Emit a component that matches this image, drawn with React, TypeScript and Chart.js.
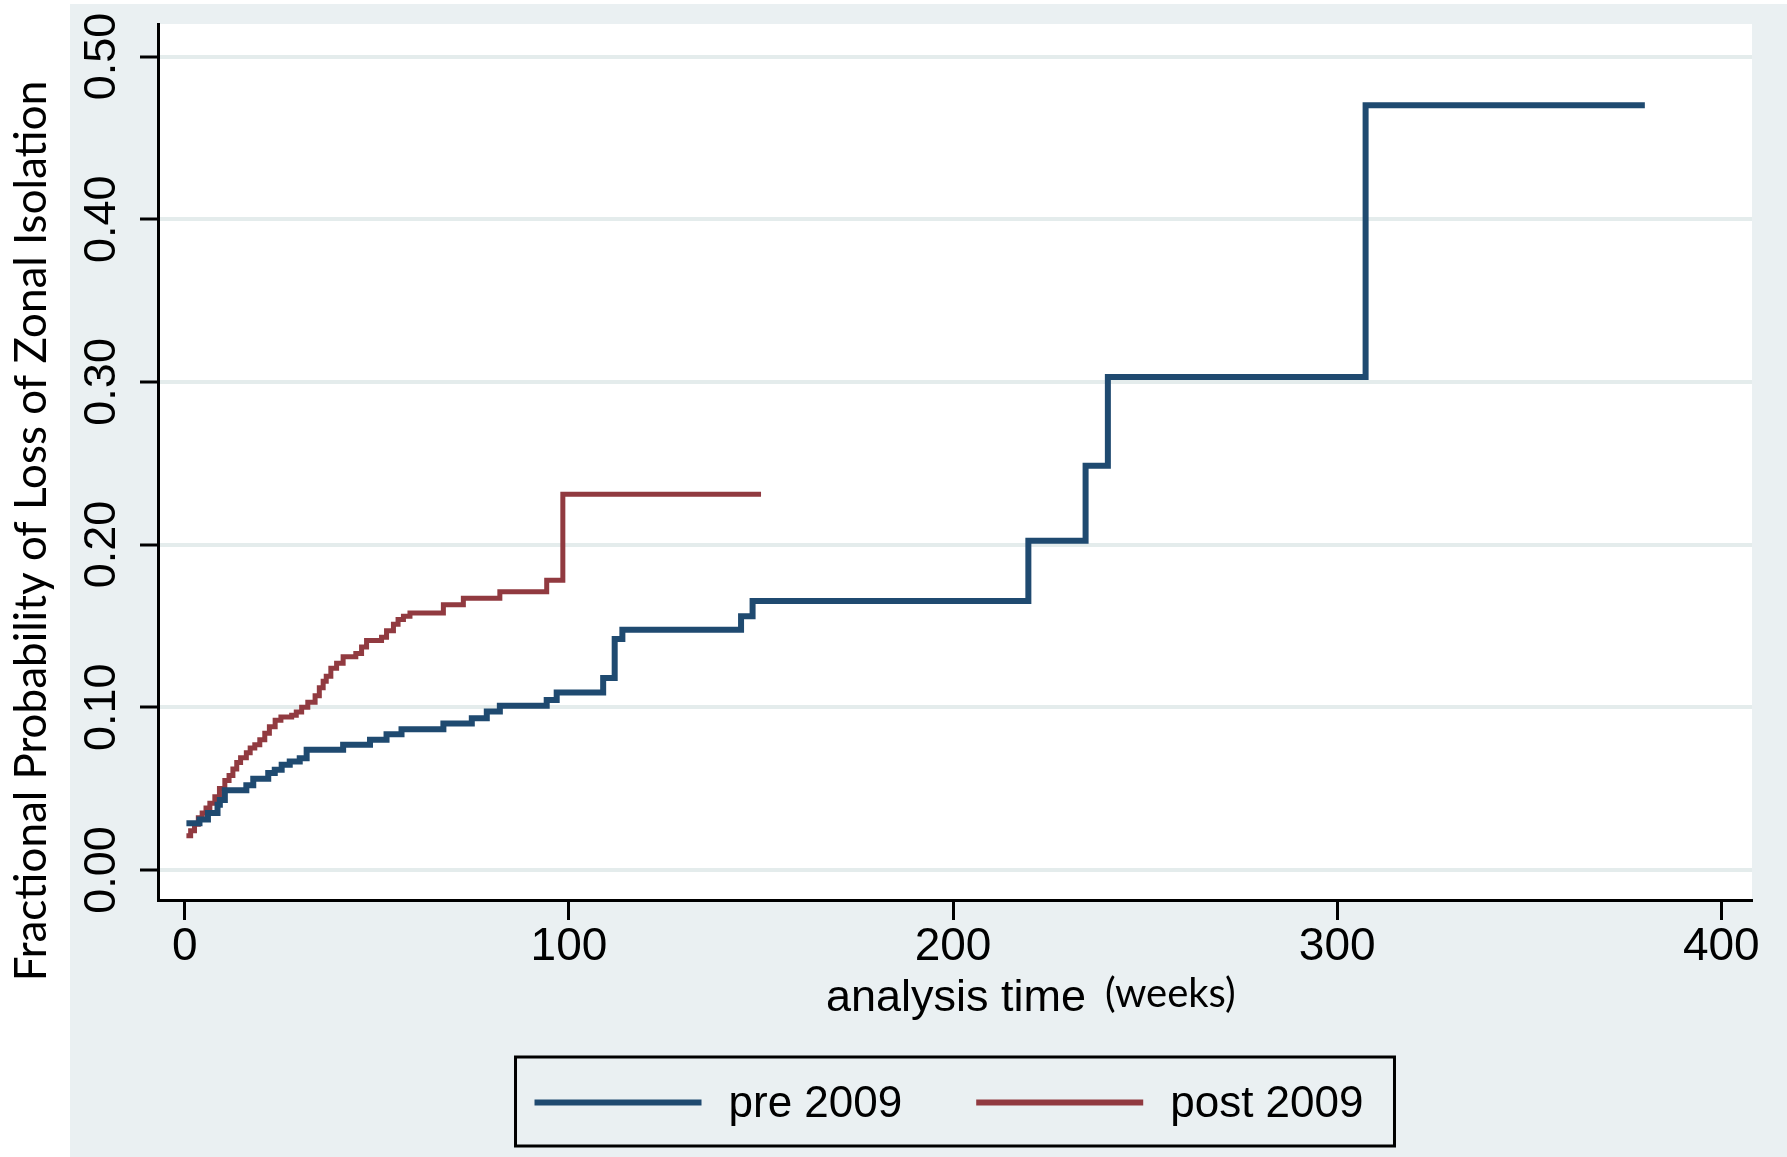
import React, { useEffect, useRef } from "react";
import { Chart, registerables } from "chart.js";

Chart.register(...registerables);

// ---- Data ----
const seriesLabels = ["pre 2009", "post 2009"];

const preTimes = [
  0.4, 3.8, 6.0, 8.5, 9.1, 10.4, 16.0, 17.8, 21.7, 23.4, 25.2, 27.3, 29.9, 31.7,
  41.2, 48.2, 52.5, 56.4, 67.3, 74.7, 78.6, 82.0, 94.2, 96.8, 108.9, 111.9, 113.9,
  144.8, 147.8, 219.6, 234.5, 240.3, 307.4, 380.1,
];
const preValues = [
  0.0287, 0.031, 0.035, 0.04, 0.043, 0.049, 0.052, 0.056, 0.0595, 0.0615, 0.0646,
  0.0666, 0.0687, 0.0738, 0.0769, 0.08, 0.0834, 0.0865, 0.09, 0.0933, 0.0974,
  0.1009, 0.1045, 0.109, 0.118, 0.142, 0.1477, 0.156, 0.1653, 0.2023, 0.2485,
  0.303, 0.47, 0.47,
];

const postTimes = [
  0.4, 1.5, 2.5, 3.5, 4.5, 5.5, 6.5, 7.8, 9.0, 10.4, 11.5, 12.5, 13.5, 14.5, 16.0,
  17.0, 18.2, 19.5, 20.8, 22.0, 23.5, 25.0, 27.8, 29.0, 30.4, 32.0, 33.9, 35.0,
  36.0, 36.8, 38.0, 39.5, 41.2, 44.5, 46.0, 47.3, 51.2, 52.5, 54.3, 55.5, 56.9,
  58.6, 67.3, 72.5, 82.0, 94.2, 98.4, 150.0,
];
const postValues = [
  0.021, 0.024, 0.028, 0.032, 0.035, 0.038, 0.041, 0.045, 0.05, 0.055, 0.058,
  0.062, 0.066, 0.069, 0.072, 0.075, 0.077, 0.08, 0.084, 0.088, 0.092, 0.094,
  0.095, 0.097, 0.1, 0.103, 0.107, 0.112, 0.116, 0.119, 0.124, 0.127, 0.131,
  0.133, 0.137, 0.141, 0.143, 0.147, 0.151, 0.154, 0.156, 0.158, 0.163, 0.167,
  0.171, 0.178, 0.231, 0.231,
];

const xTickValues = [0, 100, 200, 300, 400];
const yTickValues = [0, 0.1, 0.2, 0.3, 0.4, 0.5];

const yTitle = "Fractional Probability of Loss of Zonal Isolation";
const xTitleMain = "analysis time";
const xTitleUnit = "(weeks)";

const BLUE = "#1f4a70";
const RED = "#913a40";
const PANEL = "#eaf0f2";
const GRID = "#e4ecec";

const decorPlugin = {
  id: "decor",
  beforeDraw(chart: any) {
    const { ctx, width, height, chartArea } = chart;
    ctx.save();
    ctx.fillStyle = "#ffffff";
    ctx.fillRect(0, 0, width, height);
    ctx.fillStyle = PANEL;
    ctx.fillRect(70, 4, width - 70, height - 4);
    ctx.fillStyle = "#ffffff";
    ctx.fillRect(
      chartArea.left,
      chartArea.top,
      chartArea.right - chartArea.left,
      chartArea.bottom - chartArea.top
    );
    ctx.restore();
  },
  afterDraw(chart: any) {
    const { ctx, chartArea } = chart;
    ctx.save();
    ctx.fillStyle = "#000";
    // y title
    ctx.font = "44px Lato";
    ctx.textAlign = "center";
    ctx.textBaseline = "middle";
    ctx.translate(32, 531);
    ctx.rotate(-Math.PI / 2);
    ctx.fillText(yTitle, 0, 0);
    ctx.setTransform(1, 0, 0, 1, 0, 0);

    // x title
    ctx.textAlign = "left";
    ctx.font = "45px 'Liberation Sans'";
    ctx.fillText(xTitleMain, 826, 999);
    ctx.font = "40px Lato";
    ctx.fillText(xTitleUnit, 1105, 994);

    // legend
    const ds = chart.data.datasets;
    const sample = 167;
    const gap = 27;
    const spacing = 74;
    ctx.font = "44px 'Liberation Sans'";
    let rowW = 0;
    ds.forEach((d: any, i: number) => {
      rowW += sample + gap + ctx.measureText(d.label).width;
      if (i < ds.length - 1) rowW += spacing;
    });
    const cx = (chartArea.left + chartArea.right) / 2;
    const boxW = rowW + 50;
    const boxTop = 1057;
    const boxH = 89;
    ctx.strokeStyle = "#000";
    ctx.lineWidth = 3;
    ctx.strokeRect(cx - boxW / 2, boxTop, boxW, boxH);
    const cy = boxTop + boxH / 2 + 1;
    let x = cx - rowW / 2 - 6;
    ds.forEach((d: any) => {
      ctx.strokeStyle = d.borderColor;
      ctx.lineWidth = 6;
      ctx.beginPath();
      ctx.moveTo(x, cy);
      ctx.lineTo(x + sample, cy);
      ctx.stroke();
      x += sample + gap;
      ctx.fillStyle = "#000";
      ctx.fillText(d.label, x, cy + 2);
      x += ctx.measureText(d.label).width + spacing;
    });
    ctx.restore();
  },
};

export default function App() {
  const canvasRef = useRef<HTMLCanvasElement | null>(null);

  useEffect(() => {
    const canvas = canvasRef.current;
    if (!canvas) return;
    Chart.defaults.font.family = "'Liberation Sans', Arial, sans-serif";
    const chart = new Chart(canvas, {
      type: "line",
      data: {
        datasets: [
          {
            label: seriesLabels[0],
            data: preTimes.map((t, i) => ({ x: t, y: preValues[i] })),
            borderColor: BLUE,
            backgroundColor: BLUE,
            borderWidth: 6,
            stepped: true,
            pointRadius: 0,
            fill: false,
            borderJoinStyle: "miter",
            borderCapStyle: "butt",
          },
          {
            label: seriesLabels[1],
            data: postTimes.map((t, i) => ({ x: t, y: postValues[i] })),
            borderColor: RED,
            backgroundColor: RED,
            borderWidth: 5,
            stepped: true,
            pointRadius: 0,
            fill: false,
            borderJoinStyle: "miter",
            borderCapStyle: "butt",
          },
        ],
      },
      options: {
        animation: false,
        responsive: false,
        devicePixelRatio: 1,
        layout: { padding: { top: 24, right: 35, bottom: 0, left: 0 } },
        plugins: {
          legend: { display: false },
          tooltip: { enabled: false },
          title: { display: false },
        },
        scales: {
          x: {
            type: "linear",
            min: -7,
            max: 408,
            afterBuildTicks: (s: any) => {
              s.ticks = xTickValues.map((v) => ({ value: v }));
            },
            ticks: {
              autoSkip: false,
              maxRotation: 0,
              minRotation: 0,
              padding: 0,
              color: "#000",
              font: { size: 46 },
              callback: (v: any) => String(v),
            },
            grid: {
              drawOnChartArea: false,
              drawTicks: true,
              tickLength: 20,
              tickWidth: 3,
              tickColor: "#000",
            },
            border: { display: true, color: "#000", width: 3 },
            afterFit: (s: any) => {
              s.height = 257;
              s.paddingLeft = 0;
              s.paddingRight = 0;
            },
          },
          y: {
            type: "linear",
            min: -0.0185,
            max: 0.52,
            afterBuildTicks: (s: any) => {
              s.ticks = yTickValues.map((v) => ({ value: v }));
            },
            ticks: {
              autoSkip: false,
              minRotation: 90,
              maxRotation: 90,
              crossAlign: "center",
              padding: -6,
              color: "#000",
              font: { size: 45 },
              callback: (v: any) => Number(v).toFixed(2),
            },
            grid: {
              color: GRID,
              lineWidth: 4,
              drawTicks: true,
              tickLength: 18,
              tickWidth: 3,
              tickColor: "#000",
            },
            border: { display: true, color: "#000", width: 3 },
            afterFit: (s: any) => {
              s.width = 158;
              s.paddingTop = 0;
              s.paddingBottom = 0;
            },
          },
        },
      },
      plugins: [decorPlugin],
    } as any);
    return () => chart.destroy();
  }, []);

  return (
    <div style={{ position: "absolute", left: 0, top: 0, width: 1787, height: 1157 }}>
      <canvas
        ref={canvasRef}
        width={1787}
        height={1157}
        style={{ display: "block", width: 1787, height: 1157 }}
      />
    </div>
  );
}
